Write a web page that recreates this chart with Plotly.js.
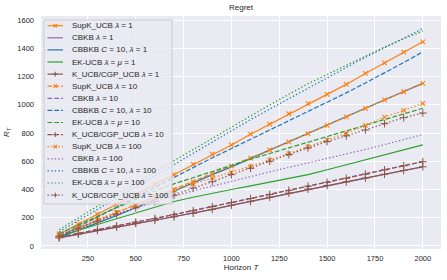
<!DOCTYPE html>
<html>
<head>
<meta charset="utf-8">
<script src="https://cdn.plot.ly/plotly-3.0.1.min.js"></script>
<style>html,body{margin:0;padding:0;background:#fff;}#chart{width:447px;height:280px;}</style>
</head>
<body>
<div id="chart"></div>
<script>
// Horizon values
const T = [100,200,300,400,500,600,700,800,900,1000,1100,1200,1300,1400,1500,1600,1700,1800,1900,2000];
const xTicks = [250,500,750,1000,1250,1500,1750,2000];
const yTicks = [0,200,400,600,800,1000,1200,1400,1600];

// lambda = 1
const supk1   = [85,155,225,295,365,435,505,580,650,716,792,863,937,1008,1075,1145,1223,1298,1374,1447];
const cbkb1   = [56,81,106,131,156,180,204,230,258,287,315,344,373,402,428,454,481,508,534,560];
const cbbkb1  = [60,110,160,215,270,330,390,445,505,560,620,680,740,795,855,915,975,1035,1095,1152];
const ek1     = [70,110,150,190,235,275,315,345,375,400,425,452,478,505,540,575,612,648,683,716];
const kucb1   = [58,84,110,134,158,182,206,231,259,288,316,345,374,403,428,454,481,508,535,561];
// lambda = 10
const supk10  = [70,125,180,235,290,345,400,455,510,565,622,680,738,796,855,915,975,1035,1093,1152];
const cbkb10  = [62,90,117,143,169,195,222,250,279,308,337,366,395,424,452,480,510,540,569,598];
const cbbkb10 = [65,135,205,275,345,420,490,558,625,690,755,820,885,950,1015,1085,1155,1225,1300,1376];
const ek10    = [85,150,210,270,330,390,440,485,530,575,615,655,695,735,780,820,860,900,938,976];
const kucb10  = [61,89,116,142,168,194,221,249,278,307,336,365,394,423,451,479,509,539,568,597];
// lambda = 100
const supk100  = [75,132,186,240,292,345,395,440,482,522,562,608,655,702,750,800,855,913,961,1011];
const cbkb100  = [80,130,180,225,270,312,352,390,425,460,493,525,557,588,618,650,684,718,754,790];
const cbbkb100 = [100,180,260,340,420,500,580,660,740,820,895,970,1045,1120,1192,1265,1337,1405,1475,1541];
const ek100    = [115,200,285,365,445,525,605,685,765,845,925,1000,1075,1150,1215,1280,1345,1410,1468,1524];
const kucb100  = [70,125,175,225,270,315,360,410,455,505,550,600,648,695,740,780,822,867,909,942];

const names = [
  'SupK_UCB <i>λ</i> = 1','CBKB <i>λ</i> = 1','CBBKB <i>C</i> = 10, <i>λ</i> = 1','EK-UCB <i>λ</i> = <i>μ</i> = 1','K_UCB/CGP_UCB <i>λ</i> = 1',
  'SupK_UCB <i>λ</i> = 10','CBKB <i>λ</i> = 10','CBBKB <i>C</i> = 10, <i>λ</i> = 10','EK-UCB <i>λ</i> = <i>μ</i> = 10','K_UCB/CGP_UCB <i>λ</i> = 10',
  'SupK_UCB <i>λ</i> = 100','CBKB <i>λ</i> = 100','CBBKB <i>C</i> = 10, <i>λ</i> = 100','EK-UCB <i>λ</i> = <i>μ</i> = 100','K_UCB/CGP_UCB <i>λ</i> = 100'
];
const series = [supk1,cbkb1,cbbkb1,ek1,kucb1, supk10,cbkb10,cbbkb10,ek10,kucb10, supk100,cbkb100,cbbkb100,ek100,kucb100];

// styles
const colors = ['#ff7f0e','#9467bd','#1f77b4','#2ca02c','#8c564b'];
const dashes = ['solid','4.8px,2px','1.4px,2.2px'];
const LW = 1.2;

const traces = series.map((ys, i) => {
  const g = Math.floor(i / 5), a = i % 5;
  const tr = {
    x: T, y: ys, name: names[i], type: 'scatter',
    mode: (a === 0 || a === 4) ? 'lines+markers' : 'lines',
    line: {color: colors[a], width: LW, dash: dashes[g]},
    showlegend: false, hoverinfo: 'skip'
  };
  if (a === 0) tr.marker = {symbol: 'x-thin', size: 4.5, line: {color: colors[a], width: 1.1}, color: colors[a]};
  if (a === 4) tr.marker = {symbol: 'cross-thin', size: 5.5, line: {color: colors[a], width: 1}, color: colors[a]};
  return tr;
});

// plot area geometry (px)
const L = 41, R = 441, TOP = 16, BOT = 249;
const px2x = p => (p - L) / (R - L);
const px2y = p => (BOT - p) / (BOT - TOP);

// legend built from names
const shapes = [];
const annotations = [];
shapes.push({type: 'rect', xref: 'paper', yref: 'paper', layer: 'above',
  x0: px2x(44), x1: px2x(172), y0: px2y(204), y1: px2y(20),
  fillcolor: 'rgba(234,234,242,0.8)', line: {color: '#cccccc', width: 1}});
names.forEach((nm, i) => {
  const g = Math.floor(i / 5), a = i % 5;
  const cy = 25.7 + 12.1 * i;
  shapes.push({type: 'line', xref: 'paper', yref: 'paper', layer: 'above',
    x0: px2x(47.5), x1: px2x(63), y0: px2y(cy), y1: px2y(cy),
    line: {color: colors[a], width: LW, dash: dashes[g]}});
  const mx = 55.3;
  if (a === 0) {
    const d = 1.7;
    shapes.push({type: 'path', xref: 'paper', yref: 'paper', layer: 'above',
      path: `M${px2x(mx-d)},${px2y(cy-d)} L${px2x(mx+d)},${px2y(cy+d)} M${px2x(mx-d)},${px2y(cy+d)} L${px2x(mx+d)},${px2y(cy-d)}`,
      line: {color: colors[a], width: 1.1}});
  }
  if (a === 4) {
    const d = 2.4;
    shapes.push({type: 'path', xref: 'paper', yref: 'paper', layer: 'above',
      path: `M${px2x(mx-d)},${px2y(cy)} L${px2x(mx+d)},${px2y(cy)} M${px2x(mx)},${px2y(cy-d)} L${px2x(mx)},${px2y(cy+d)}`,
      line: {color: colors[a], width: 1}});
  }
  annotations.push({xref: 'paper', yref: 'paper', x: px2x(70), y: px2y(cy),
    xanchor: 'left', yanchor: 'middle', showarrow: false, text: nm,
    font: {family: 'Liberation Sans, Arial, sans-serif', size: 8, color: '#262626'}});
});

const fontFam = 'Liberation Sans, Arial, sans-serif';
const layout = {
  width: 447, height: 280,
  margin: {l: L, r: 447 - R, t: TOP, b: 280 - BOT, pad: 0},
  paper_bgcolor: '#ffffff', plot_bgcolor: '#eaeaf2',
  font: {family: fontFam, size: 7.5, color: '#262626'},
  title: {text: 'Regret', font: {family: fontFam, size: 8, color: '#262626'},
    x: 241 / 447, xanchor: 'center', y: 1 - 7 / 280, yanchor: 'middle', yref: 'container'},
  showlegend: false,
  xaxis: {range: [5, 2095], tickvals: xTicks, ticktext: xTicks.map(String), showgrid: true, gridcolor: '#ffffff', gridwidth: 1,
    zeroline: false, showline: false, ticks: '', ticklabelstandoff: 3,
    tickfont: {family: fontFam, size: 7.5, color: '#262626'},
    title: {text: 'Horizon <i>T</i>', font: {family: fontFam, size: 8, color: '#262626'}, standoff: 2}},
  yaxis: {range: [-22, 1630], tickvals: yTicks, ticktext: yTicks.map(String), showgrid: true, gridcolor: '#ffffff', gridwidth: 1,
    zeroline: false, showline: false, ticks: '', ticklabelstandoff: 6,
    tickfont: {family: fontFam, size: 7.5, color: '#262626'},
    title: {text: '<i>R</i><sub><i>T</i></sub>', font: {family: fontFam, size: 8, color: '#262626'}, standoff: 6}},
  shapes: shapes,
  annotations: annotations
};

Plotly.newPlot('chart', traces, layout, {displayModeBar: false, staticPlot: true});
</script>
</body>
</html>
